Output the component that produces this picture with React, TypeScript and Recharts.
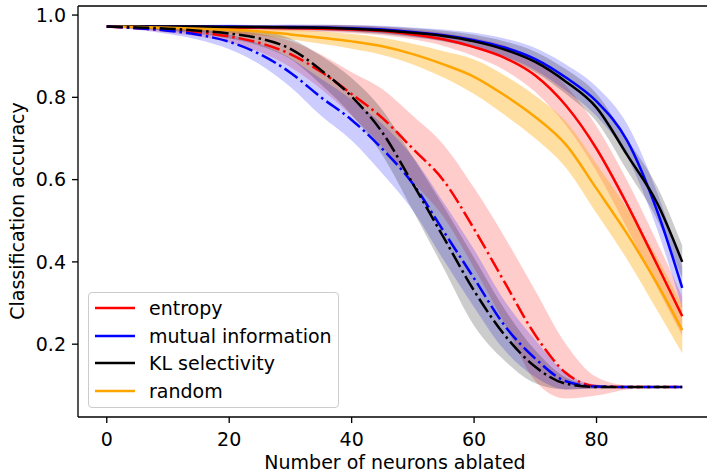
import React from "react";
import {
  ComposedChart,
  Line,
  Area,
  XAxis,
  YAxis,
  ReferenceLine,
  Legend,
  Label,
} from "recharts";

const FONT = "'DejaVu Sans', sans-serif";
const FS = 19;

const neurons = [0, 5, 10, 15, 20, 25, 30, 35, 40, 45, 50, 55, 60, 65, 70, 75, 80, 85, 90, 94];

// solid curves (right group)
const entropySolid = [0.972, 0.972, 0.971, 0.971, 0.97, 0.969, 0.968, 0.967, 0.965, 0.961, 0.953, 0.941, 0.922, 0.896, 0.853, 0.78, 0.675, 0.54, 0.39, 0.268];
const entropySolidLo = [0.972, 0.97, 0.968, 0.967, 0.965, 0.963, 0.961, 0.959, 0.956, 0.951, 0.941, 0.925, 0.9, 0.866, 0.813, 0.732, 0.62, 0.482, 0.335, 0.22];
const entropySolidHi = [0.972, 0.974, 0.974, 0.975, 0.975, 0.975, 0.975, 0.975, 0.974, 0.971, 0.965, 0.957, 0.944, 0.926, 0.893, 0.828, 0.73, 0.598, 0.445, 0.316];

const mutualSolid = [0.972, 0.972, 0.972, 0.972, 0.972, 0.971, 0.971, 0.97, 0.968, 0.965, 0.959, 0.951, 0.939, 0.921, 0.893, 0.848, 0.79, 0.695, 0.52, 0.337];
const mutualSolidLo = [0.972, 0.97, 0.969, 0.968, 0.967, 0.966, 0.965, 0.963, 0.96, 0.956, 0.948, 0.937, 0.921, 0.899, 0.866, 0.816, 0.754, 0.655, 0.475, 0.287];
const mutualSolidHi = [0.972, 0.974, 0.975, 0.976, 0.977, 0.976, 0.977, 0.977, 0.976, 0.974, 0.97, 0.965, 0.957, 0.943, 0.92, 0.88, 0.826, 0.735, 0.565, 0.387];

const klSolid = [0.972, 0.972, 0.972, 0.972, 0.971, 0.971, 0.97, 0.969, 0.967, 0.963, 0.957, 0.949, 0.936, 0.916, 0.886, 0.838, 0.775, 0.66, 0.54, 0.4];
const klSolidLo = [0.972, 0.97, 0.969, 0.968, 0.966, 0.966, 0.964, 0.962, 0.959, 0.954, 0.946, 0.936, 0.92, 0.896, 0.861, 0.808, 0.741, 0.622, 0.5, 0.36];
const klSolidHi = [0.972, 0.974, 0.975, 0.976, 0.976, 0.976, 0.976, 0.976, 0.975, 0.972, 0.968, 0.962, 0.952, 0.936, 0.911, 0.868, 0.809, 0.698, 0.58, 0.44];

const randomSolid = [0.972, 0.971, 0.969, 0.967, 0.964, 0.96, 0.953, 0.945, 0.936, 0.924, 0.905, 0.88, 0.85, 0.805, 0.752, 0.685, 0.578, 0.468, 0.344, 0.234];
const randomSolidLo = [0.972, 0.967, 0.963, 0.959, 0.955, 0.95, 0.941, 0.93, 0.918, 0.903, 0.88, 0.848, 0.808, 0.757, 0.7, 0.629, 0.518, 0.406, 0.28, 0.178];
const randomSolidHi = [0.972, 0.975, 0.975, 0.975, 0.973, 0.97, 0.965, 0.96, 0.954, 0.945, 0.93, 0.912, 0.892, 0.853, 0.804, 0.741, 0.638, 0.53, 0.408, 0.294];

// dash-dot curves (left group)
const entropyDash = [0.972, 0.968, 0.963, 0.958, 0.948, 0.932, 0.905, 0.862, 0.808, 0.75, 0.675, 0.598, 0.48, 0.35, 0.222, 0.13, 0.098, 0.096, 0.096, 0.096];
const entropyDashLo = [0.972, 0.965, 0.957, 0.948, 0.933, 0.91, 0.873, 0.82, 0.755, 0.68, 0.595, 0.51, 0.385, 0.25, 0.11, 0.068, 0.075, 0.09, 0.094, 0.094];
const entropyDashHi = [0.972, 0.971, 0.969, 0.968, 0.963, 0.954, 0.937, 0.904, 0.861, 0.82, 0.755, 0.685, 0.58, 0.46, 0.33, 0.2, 0.12, 0.1, 0.098, 0.098];

const mutualDash = [0.972, 0.968, 0.962, 0.952, 0.935, 0.905, 0.86, 0.8, 0.745, 0.675, 0.59, 0.475, 0.36, 0.245, 0.165, 0.11, 0.097, 0.096, 0.096, 0.096];
const mutualDashLo = [0.972, 0.964, 0.954, 0.94, 0.917, 0.88, 0.825, 0.755, 0.695, 0.615, 0.525, 0.405, 0.29, 0.185, 0.12, 0.09, 0.092, 0.094, 0.095, 0.095];
const mutualDashHi = [0.972, 0.972, 0.97, 0.964, 0.953, 0.93, 0.895, 0.845, 0.795, 0.735, 0.655, 0.545, 0.43, 0.305, 0.21, 0.13, 0.102, 0.098, 0.097, 0.097];

const klDash = [0.972, 0.97, 0.967, 0.962, 0.955, 0.943, 0.918, 0.866, 0.802, 0.715, 0.59, 0.46, 0.33, 0.222, 0.145, 0.104, 0.096, 0.096, 0.096, 0.096];
const klDashLo = [0.972, 0.967, 0.962, 0.954, 0.943, 0.925, 0.893, 0.831, 0.757, 0.66, 0.525, 0.385, 0.245, 0.16, 0.105, 0.09, 0.092, 0.094, 0.095, 0.095];
const klDashHi = [0.972, 0.973, 0.972, 0.97, 0.967, 0.961, 0.943, 0.901, 0.847, 0.77, 0.655, 0.535, 0.41, 0.285, 0.185, 0.119, 0.1, 0.098, 0.097, 0.097];

const xTicks = [0, 20, 40, 60, 80];
const yTicks = [0.2, 0.4, 0.6, 0.8, 1.0];

const series = [
  { key: "entS", name: "entropy", color: "#ff0000", band: 0.2, dashed: false, mean: entropySolid, lo: entropySolidLo, hi: entropySolidHi },
  { key: "miS", name: "mutual information", color: "#0000ff", band: 0.2, dashed: false, mean: mutualSolid, lo: mutualSolidLo, hi: mutualSolidHi },
  { key: "klS", name: "KL selectivity", color: "#000000", band: 0.2, dashed: false, mean: klSolid, lo: klSolidLo, hi: klSolidHi },
  { key: "rndS", name: "random", color: "#ffa500", band: 0.37, dashed: false, mean: randomSolid, lo: randomSolidLo, hi: randomSolidHi },
  { key: "entD", name: "entropy", color: "#ff0000", band: 0.2, dashed: true, mean: entropyDash, lo: entropyDashLo, hi: entropyDashHi },
  { key: "miD", name: "mutual information", color: "#0000ff", band: 0.2, dashed: true, mean: mutualDash, lo: mutualDashLo, hi: mutualDashHi },
  { key: "klD", name: "KL selectivity", color: "#000000", band: 0.2, dashed: true, mean: klDash, lo: klDashLo, hi: klDashHi },
];

const data = neurons.map((x, i) => {
  const row: Record<string, any> = { x };
  series.forEach((s) => {
    row[s.key] = s.mean[i];
    row[s.key + "Band"] = [s.lo[i], s.hi[i]];
  });
  return row;
});

const legendItems = series.filter((s) => !s.dashed);

const renderLegend = () => (
  <div
    style={{
      boxSizing: "border-box",
      width: 251,
      height: 116,
      border: "1px solid #cccccc",
      borderRadius: 4,
      background: "rgba(255,255,255,0.8)",
      paddingTop: 1,
      fontFamily: FONT,
      fontSize: FS,
      color: "#000",
      whiteSpace: "nowrap",
    }}
  >
    {legendItems.map((item) => (
      <div key={item.key} style={{ display: "flex", alignItems: "center", height: 27.8 }}>
        <svg width={40} height={6} style={{ marginLeft: 6, marginRight: 14, flexShrink: 0 }}>
          <line x1={0} y1={3} x2={40} y2={3} stroke={item.color} strokeWidth={2.5} />
        </svg>
        <span>{item.name}</span>
      </div>
    ))}
  </div>
);

const axisStyle = { stroke: "#000", strokeWidth: 1.33 };

export default function App() {
  return (
    <div style={{ position: "absolute", left: 0, top: 0, width: 707, height: 473, overflow: "hidden", background: "#fff" }}>
      <ComposedChart width={720} height={473} data={data} margin={{ top: 6, right: 9, bottom: 0, left: 18 }}>
        <XAxis
          dataKey="x"
          type="number"
          domain={[-4.7, 98.7]}
          ticks={xTicks}
          allowDataOverflow
          height={56}
          tickSize={6}
          tickMargin={9.5}
          axisLine={axisStyle}
          tickLine={axisStyle}
          tick={{ fill: "#000", fontSize: FS, fontFamily: FONT }}
        >
          <Label
            content={() => (
              <text x={395} y={469} textAnchor="middle" fontSize={FS} fontFamily={FONT} fill="#000">
                Number of neurons ablated
              </text>
            )}
          />
        </XAxis>
        <YAxis
          type="number"
          domain={[0.023, 1.022]}
          ticks={yTicks}
          allowDataOverflow
          width={60}
          tickSize={6}
          tickMargin={6}
          tickFormatter={(v: number) => v.toFixed(1)}
          axisLine={axisStyle}
          tickLine={axisStyle}
          tick={{ fill: "#000", fontSize: FS, fontFamily: FONT }}
        >
          <Label
            content={() => (
              <text
                x={24}
                y={211}
                transform="rotate(-90 24 211)"
                textAnchor="middle"
                fontSize={FS}
                fontFamily={FONT}
                fill="#000"
              >
                Classification accuracy
              </text>
            )}
          />
        </YAxis>
        <ReferenceLine y={1.022} stroke="#000" strokeWidth={1.33} />
        {series.map((s) => (
          <Area
            key={s.key + "Band"}
            dataKey={s.key + "Band"}
            type="monotone"
            stroke="none"
            fill={s.color}
            fillOpacity={s.band}
            isAnimationActive={false}
            activeDot={false}
            legendType="none"
          />
        ))}
        {series.map((s) => (
          <Line
            key={s.key}
            dataKey={s.key}
            type="monotone"
            stroke={s.color}
            strokeWidth={2.5}
            strokeDasharray={s.dashed ? "16 4 2.5 4" : undefined}
            dot={false}
            activeDot={false}
            isAnimationActive={false}
          />
        ))}
        <Legend
          layout="vertical"
          align="center"
          verticalAlign="middle"
          content={renderLegend}
          wrapperStyle={{ left: 88, top: 292, width: 251, height: 116 }}
        />
      </ComposedChart>
    </div>
  );
}
